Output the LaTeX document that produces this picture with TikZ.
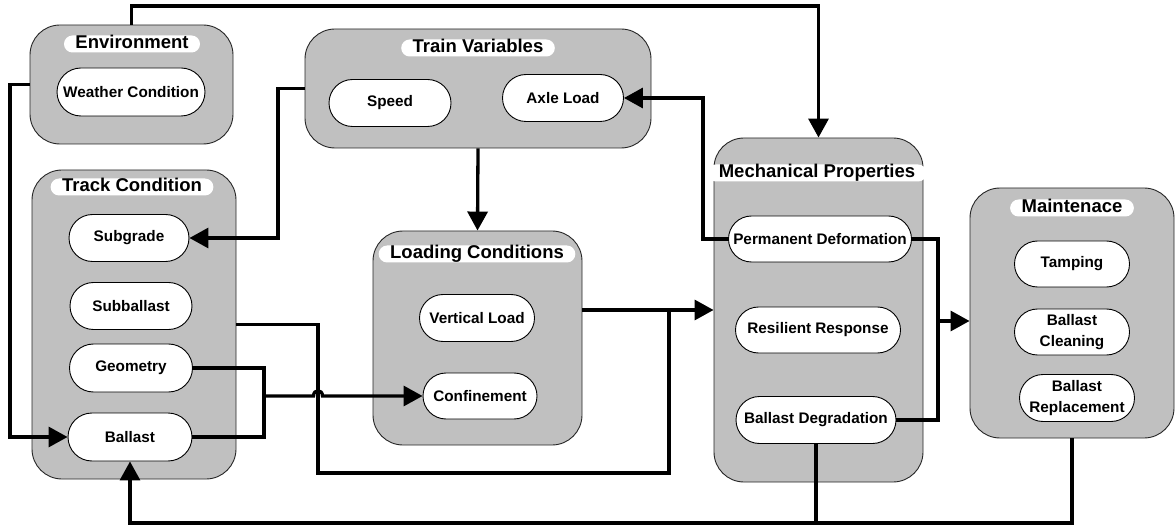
\documentclass[tikz,border=0pt]{standalone}
\usepackage{fontspec}
\setmainfont{Liberation Sans}
\usetikzlibrary{arrows.meta,shapes.misc,calc}
\definecolor{boxgray}{HTML}{C0C0C0}
\tikzset{
  group/.style={draw=black!85, line width=0.9pt, fill=boxgray, rounded corners=30pt, inner sep=0pt},
  title/.style={fill=white, rounded rectangle, inner xsep=3pt, inner ysep=0pt, text height=13.5pt, text depth=3.5pt, font=\fontsize{18.5}{20}\selectfont\bfseries},
  pill/.style={draw=black, line width=0.9pt, fill=white, rounded rectangle, inner sep=0pt, align=center, font=\fontsize{15.3}{20.5}\selectfont\bfseries},
  conn/.style={line width=3.3pt, line join=miter},
  arr/.style={conn, -{Triangle[length=19pt,width=20pt]}},
}
\begin{document}
\begin{tikzpicture}[x=1pt,y=-1pt]
\useasboundingbox (0,0) rectangle (1175,529);
% group boxes
\node[group, minimum width=203pt, minimum height=119pt] (env) at (131.5,84.5) {};
\node[group, minimum width=346pt, minimum height=119pt] (train) at (478,88.5) {};
\node[group, minimum width=204pt, minimum height=309pt] (track) at (134,324.5) {};
\node[group, minimum width=209pt, minimum height=214pt] (load) at (477.5,338) {};
\node[group, minimum width=209pt, minimum height=344pt] (mech) at (818.5,310) {};
\node[group, minimum width=204pt, minimum height=250pt] (maint) at (1072,313) {};
% titles
\node[title] (envT) at (132,44) {Environment};
\node[title] (trainT) at (478,48) {Train Variables};
\node[title] (trackT) at (132,187) {Track Condition};
\node[title] (loadT) at (477,254) {Loading Conditions};
\node[title] (mechT) at (817,173) {Mechanical Properties};
\node[title] (maintT) at (1072,208) {Maintenace};
% pills
\node[pill, minimum width=148pt, minimum height=48pt] (weather) at (131,92) {Weather Condition};
\node[pill, minimum width=122pt, minimum height=47pt] (speed) at (390,103) {Speed};
\node[pill, minimum width=121pt, minimum height=47pt] (axle) at (563,98) {Axle Load};
\node[pill, minimum width=120pt, minimum height=47pt] (subgrade) at (129,238) {Subgrade};
\node[pill, minimum width=122pt, minimum height=47pt] (subballast) at (131,306) {Subballast};
\node[pill, minimum width=123pt, minimum height=48pt] (geometry) at (131,368) {Geometry};
\node[pill, minimum width=124pt, minimum height=48pt] (ballast) at (130,437) {Ballast};
\node[pill, minimum width=115pt, minimum height=47pt] (vload) at (477,318) {Vertical Load};
\node[pill, minimum width=114pt, minimum height=46pt] (confine) at (480,396) {Confinement};
\node[pill, minimum width=183pt, minimum height=46pt] (permdef) at (820,239) {Permanent Deformation};
\node[pill, minimum width=165pt, minimum height=46pt] (resil) at (818,330) {Resilient Response};
\node[pill, minimum width=160pt, minimum height=47pt] (baldeg) at (816,420) {Ballast Degradation};
\node[pill, minimum width=115pt, minimum height=46pt] (tamp) at (1072,264) {Tamping};
\node[pill, minimum width=115pt, minimum height=46pt] (bclean) at (1072,332) {Ballast\\Cleaning};
\node[pill, minimum width=115pt, minimum height=47pt] (brepl) at (1077,398) {Ballast\\Replacement};
% junction coordinates
\coordinate (j1) at (669,310);
\coordinate (j2) at (264,396);
\coordinate (j3) at (938,321);
\coordinate (j4) at (816,523);
% connectors
\draw[arr] (env.north) -- (env.north |- 0,6) -- (mech.north |- 0,6) -- (mech.north);
\draw[arr] (env.west) -- (10,84.5) -- (10,437) -- (ballast.west);
\draw[arr] (train.west) -- (278,88.5) -- (278,238) -- (subgrade.east);
\draw[arr] (train.south) -- (load.north);
\draw[arr] (permdef.west) -- (703,239) -- (703,98) -- (axle.east);
\draw[arr] (load.east |- mech.west) -- (mech.west);
\draw[conn] (j1) -- (669,473) -- (318,473) -- (318,324.5) -- (track.east);
\draw[conn] (geometry.east) -- (264,368) -- (264,437) -- (ballast.east);
\draw[arr] (j2) -- (313.5,396) .. controls (313.5,389) and (322.5,389) .. (322.5,396) -- (confine.west);
\draw[conn] (permdef.east) -- (938,239) -- (938,420) -- (baldeg.east);
\draw[arr] (j3) -- (maint.west |- j3);
\draw[arr] (maint.south) -- (1072,523) -- (130,523) -- (ballast.south);
\draw[conn] (baldeg.south) -- (j4);
\end{tikzpicture}
\end{document}
